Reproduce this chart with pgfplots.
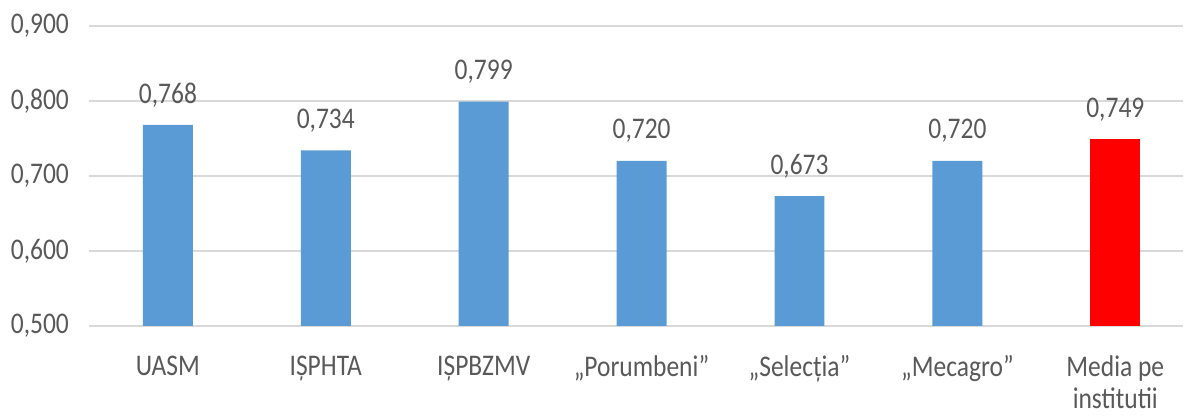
\documentclass[border=0pt]{standalone}
\usepackage{pgfplots}
\pgfplotsset{compat=1.18}
\usepackage{fontspec}
\setmainfont[FakeStretch=0.85]{Carlito}
\definecolor{barblue}{HTML}{5B9BD5}
\definecolor{txtgray}{HTML}{595959}
\definecolor{gridgray}{HTML}{D9D9D9}
\pgfkeys{/pgf/number format/.cd, fixed, fixed zerofill, precision=3, use comma, assume math mode=true}
\begin{document}
\begin{tikzpicture}
\begin{axis}[
  scale only axis,
  width=547.5pt, height=150pt,
  xmin=-0.5, xmax=6.43,
  ymin=0.5, ymax=0.9,
  ytick={0.5,0.6,0.7,0.8,0.9},
  xtick={0,1,2,3,4,5,6},
  xticklabels={UASM,IȘPHTA,IȘPBZMV,„Porumbeni”,„Selecția”,„Mecagro”,{Media pe\\institutii}},
  axis line style={draw=none},
  major tick length=0pt,
  ymajorgrids,
  grid style={gridgray, line width=0.8pt},
  font=\fontsize{15}{16}\selectfont,
  tick label style={txtgray, font=\fontsize{15}{16}\selectfont},
  xticklabel style={align=center, yshift=-11.5pt},
  yticklabel style={xshift=-6.5pt, /pgf/number format/.cd, fixed, fixed zerofill, precision=3, use comma, assume math mode=true},
  ybar, bar width=25pt, bar shift=0pt,
  nodes near coords,
  nodes near coords style={txtgray, font=\fontsize{15}{16}\selectfont, yshift=5.5pt},
  clip=false,
]
\addplot[fill=barblue, draw=none] coordinates {(0,0.768) (1,0.734) (2,0.799) (3,0.720) (4,0.673) (5,0.720)};
\addplot[fill=red, draw=none] coordinates {(6,0.749)};
\coordinate (tl) at (rel axis cs:0,1);
\coordinate (br) at (rel axis cs:1,0);
\end{axis}
\useasboundingbox ([xshift=-44.5pt, yshift=13pt]tl) rectangle ([yshift=-41pt]br);
\end{tikzpicture}
\end{document}
